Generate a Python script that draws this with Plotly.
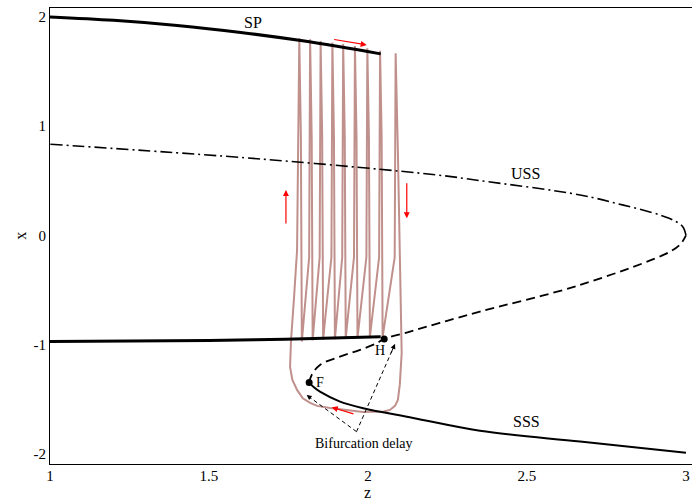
import plotly.graph_objects as go

# ---- equilibrium branches (z, x) ----
sp_top_z = [1.0, 1.2, 1.4, 1.6, 1.8, 2.04]
sp_top_x = [2.0, 1.969, 1.922, 1.858, 1.779, 1.662]

sp_low_z = [1.0, 1.5, 1.74, 2.04]
sp_low_x = [-0.97, -0.962, -0.95, -0.928]

uss_z = [3.0, 2.99, 2.96, 2.918, 2.8, 2.667, 2.352, 2.216, 1.671, 1.0]
uss_x = [0.0, 0.08, 0.14, 0.188, 0.28, 0.371, 0.502, 0.554, 0.698, 0.835]

unstable_z = [1.815, 1.823, 1.849, 1.912, 1.975, 2.027, 2.051, 2.132, 2.226, 2.352, 2.667, 2.95, 2.985, 3.0]
unstable_x = [-1.347, -1.277, -1.185, -1.109, -1.048, -0.987, -0.947, -0.88, -0.80, -0.697, -0.453, -0.148, -0.071, 0.0]

sss_z = [1.815, 1.83, 1.849, 1.912, 1.985, 2.142, 2.352, 2.667, 3.0]
sss_x = [-1.347, -1.39, -1.43, -1.521, -1.582, -1.67, -1.787, -1.887, -1.988]

# special points
hopf = (2.051, -0.947)
fold = (1.815, -1.347)

# ---- bursting trajectory ----
spike_z = [1.784, 1.818, 1.851, 1.888, 1.922, 1.959, 1.998, 2.038, 2.087]
spike_top = [1.805, 1.796, 1.78, 1.765, 1.753, 1.735, 1.713, 1.691, 1.667]
spike_floor = [-0.97, -0.96, -0.95, -0.95, -0.94, -0.94, -0.93, -0.93]

reset_z = [2.094, 2.102, 2.104, 2.106, 2.10, 2.094, 2.085, 2.069, 2.05, 2.028, 1.984, 1.881,
           1.84, 1.818, 1.795, 1.777, 1.762, 1.755, 1.758, 1.767, 1.777]
reset_x = [0.78, -0.5, -0.957, -1.076, -1.368, -1.506, -1.56, -1.597, -1.612, -1.615, -1.615, -1.579,
           -1.56, -1.533, -1.49, -1.414, -1.32, -1.204, -0.957, -0.59, -0.133]

traj_z, traj_x = list(reset_z), list(reset_x)
for i, (zc, top) in enumerate(zip(spike_z, spike_top)):
    if i > 0:
        traj_z.append(zc - 0.003)
        traj_x.append(-0.2)
    traj_z.append(zc)
    traj_x.append(top)
    if i < len(spike_z) - 1:
        traj_z += [zc + 0.005, zc + 0.008]
        traj_x += [0.9, spike_floor[i]]
traj_z.append(reset_z[0])
traj_x.append(reset_x[0])

SERIF = "Liberation Serif"
fig = go.Figure()

fig.add_trace(go.Scatter(x=traj_z, y=traj_x, mode="lines",
                         line=dict(color="#c0908c", width=2)))
fig.add_trace(go.Scatter(x=sp_top_z, y=sp_top_x, mode="lines", line_shape="spline",
                         line=dict(color="black", width=3)))
fig.add_trace(go.Scatter(x=sp_low_z, y=sp_low_x, mode="lines", line_shape="spline",
                         line=dict(color="black", width=3)))
fig.add_trace(go.Scatter(x=uss_z, y=uss_x, mode="lines", line_shape="spline",
                         line=dict(color="black", width=1.6, dash="12px,4px,2px,4px")))
fig.add_trace(go.Scatter(x=unstable_z, y=unstable_x, mode="lines", line_shape="spline",
                         line=dict(color="black", width=1.8, dash="9px,5px")))
fig.add_trace(go.Scatter(x=sss_z, y=sss_x, mode="lines", line_shape="spline",
                         line=dict(color="black", width=2)))
fig.add_trace(go.Scatter(x=[hopf[0], fold[0]], y=[hopf[1], fold[1]], mode="markers",
                         marker=dict(color="black", size=7)))

# "Bifurcation delay" dashed guides
vertex = (1.964, -1.796)
tips = [(1.807, -1.46), (2.085, -0.993)]
for tz, tx in tips:
    fig.add_shape(type="line", x0=vertex[0], y0=vertex[1], x1=tz, y1=tx,
                  line=dict(color="black", width=1, dash="4px,3px"))
    fig.add_annotation(x=tz, y=tx, ax=tz + 0.12 * (vertex[0] - tz), ay=tx + 0.12 * (vertex[1] - tx),
                       axref="x", ayref="y", xref="x", yref="y", text="", showarrow=True,
                       arrowhead=2, arrowsize=1, arrowwidth=1, arrowcolor="black")

# red direction arrows: (tail_z, tail_x, head_z, head_x)
red_arrows = [(1.889, 1.796, 1.996, 1.744),
              (1.742, 0.096, 1.742, 0.416),
              (2.122, 0.492, 2.122, 0.157),
              (1.959, -1.637, 1.886, -1.573)]
for az, ax_, hz, hx in red_arrows:
    fig.add_annotation(x=hz, y=hx, ax=az, ay=ax_, axref="x", ayref="y", xref="x", yref="y",
                       text="", showarrow=True, arrowhead=2, arrowsize=1, arrowwidth=1.2,
                       arrowcolor="red")

labels = [("SP", 1.638, 1.945, 16), ("USS", 2.494, 0.569, 16), ("SSS", 2.499, -1.704, 16),
          ("H", 2.038, -1.05, 14), ("F", 1.848, -1.345, 14),
          ("Bifurcation delay", 1.987, -1.90, 14)]
for txt, lz, lx, sz in labels:
    fig.add_annotation(x=lz, y=lx, text=txt, showarrow=False,
                       font=dict(family=SERIF, size=sz, color="black"))

# axis titles
fig.add_annotation(x=0.495, y=-0.062, xref="paper", yref="paper", text="z", showarrow=False,
                   xanchor="center", yanchor="middle",
                   font=dict(family=SERIF, size=16, color="black"))
fig.add_annotation(x=-0.047, y=0.5, xref="paper", yref="paper", text="x", showarrow=False,
                   xanchor="center", yanchor="middle", textangle=-90,
                   font=dict(family=SERIF, size=16, color="black"))

fig.update_layout(
    width=692, height=500,
    margin=dict(l=50, r=0, t=8, b=36),
    plot_bgcolor="white", paper_bgcolor="white",
    showlegend=False,
    font=dict(family=SERIF, size=15, color="black"),
    xaxis=dict(range=[1, 3.019], tickvals=[1, 1.5, 2, 2.5, 3], ticktext=["1", "1.5", "2", "2.5", "3"],
               showgrid=False, zeroline=False, showline=True, linecolor="black", linewidth=1,
               mirror=True, ticks="", ticklabelstandoff=-2),
    yaxis=dict(range=[-2.092, 2.082], tickvals=[-2, -1, 0, 1, 2], ticktext=["-2", "-1", "0", "1", "2"],
               showgrid=False, zeroline=False, showline=True, linecolor="black", linewidth=1,
               ticks=""),
)

fig.write_html("out.html")
